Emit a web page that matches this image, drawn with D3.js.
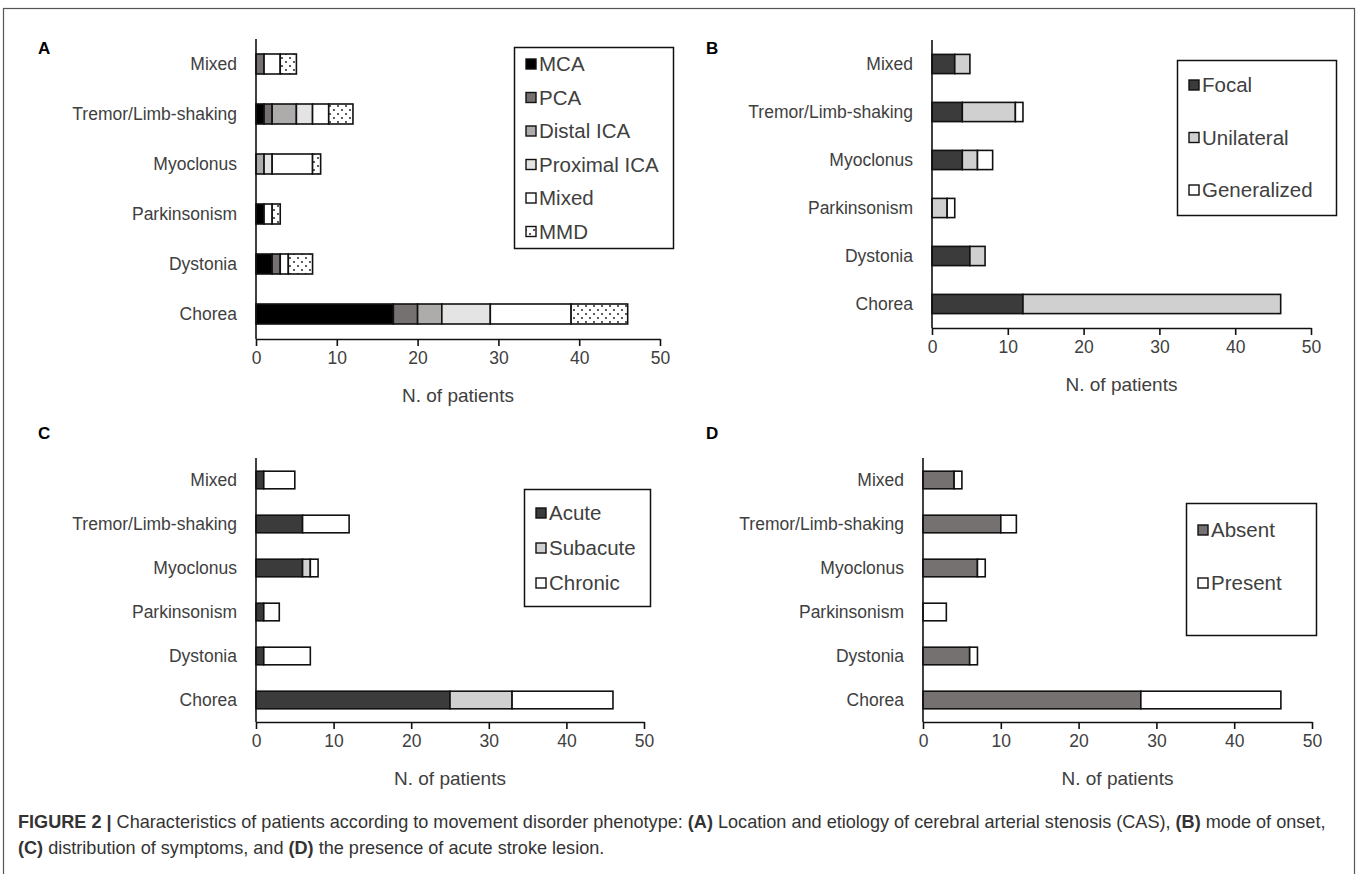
<!DOCTYPE html>
<html>
<head>
<meta charset="utf-8">
<script src="https://cdn.jsdelivr.net/npm/d3@7"></script>
<style>
  body { margin: 0; background: #fff; }
  svg { display: block; font-family: "Liberation Sans", Arial, sans-serif; }
</style>
</head>
<body>
<svg width="1358" height="874"></svg>
<script>
// categories, top to bottom as in the picture
const categories = ["Mixed", "Tremor/Limb-shaking", "Myoclonus", "Parkinsonism", "Dystonia", "Chorea"];
const xTicks = [0, 10, 20, 30, 40, 50];

// Panel A - location / etiology of CAS
const keysA = ["MCA", "PCA", "Distal ICA", "Proximal ICA", "Mixed", "MMD"];
const mca = [0, 1, 0, 1, 2, 17];
const pca = [1, 1, 0, 0, 1, 3];
const distalICA = [0, 3, 1, 0, 0, 3];
const proximalICA = [0, 2, 1, 0, 0, 6];
const mixedCAS = [2, 2, 5, 1, 1, 10];
const mmd = [2, 3, 1, 1, 3, 7];

// Panel B - mode of onset
const keysB = ["Focal", "Unilateral", "Generalized"];
const focal = [3, 4, 4, 0, 5, 12];
const unilateral = [2, 7, 2, 2, 2, 34];
const generalized = [0, 1, 2, 1, 0, 0];

// Panel C - distribution of symptoms
const keysC = ["Acute", "Subacute", "Chronic"];
const acute = [1, 6, 6, 1, 1, 25];
const subacute = [0, 0, 1, 0, 0, 8];
const chronic = [4, 6, 1, 2, 6, 13];

// Panel D - acute stroke lesion
const keysD = ["Absent", "Present"];
const absent = [4, 10, 7, 0, 6, 28];
const present = [1, 2, 1, 3, 1, 18];

function rows(keys, series) {
    return categories.map((c, i) => {
        const r = { cat: c };
        keys.forEach((k, j) => r[k] = series[j][i]);
        return r;
    });
}

const svg = d3.select("svg");
const defs = svg.append("defs");

// dotted fill for MMD
const pat = defs.append("pattern")
    .attr("id", "dots")
    .attr("width", 8).attr("height", 8)
    .attr("patternUnits", "userSpaceOnUse");
pat.append("rect").attr("width", 8).attr("height", 8).attr("fill", "#fff");
pat.append("circle").attr("cx", 2).attr("cy", 2).attr("r", 0.9).attr("fill", "#111");
pat.append("circle").attr("cx", 6).attr("cy", 6).attr("r", 0.9).attr("fill", "#111");

// outer frame
svg.append("rect")
    .attr("x", 3.5).attr("y", 8.5)
    .attr("width", 1351).attr("height", 900)
    .attr("fill", "none").attr("stroke", "#555").attr("stroke-width", 1.2);

const textCol = "#404040";
const labelSize = 17.5;

function drawPanel(p) {
    const g = svg.append("g");
    const data = rows(p.keys, p.series);
    const stack = d3.stack().keys(p.keys)(data);

    const x = d3.scaleLinear().domain([0, 50]).range([p.x0, p.x1]);
    const y = d3.scaleBand().domain(categories).range([p.yTop, p.yBottom]).paddingInner(p.pad).paddingOuter(p.pad / 2);

    // letter
    g.append("text")
        .attr("x", p.letterX).attr("y", p.letterY)
        .attr("font-size", 17).attr("font-weight", "bold").attr("fill", "#000")
        .text(p.letter);

    // bars
    stack.forEach((layer, li) => {
        g.selectAll(null)
            .data(layer.filter(d => d[1] - d[0] > 0))
            .enter()
            .append("rect")
            .attr("x", d => x(d[0]))
            .attr("y", d => y(d.data.cat))
            .attr("width", d => x(d[1]) - x(d[0]))
            .attr("height", y.bandwidth())
            .attr("fill", p.colors[li])
            .attr("stroke", "#111")
            .attr("stroke-width", 1.6);
    });

    // y axis line
    g.append("line")
        .attr("x1", p.x0).attr("x2", p.x0)
        .attr("y1", p.yTop).attr("y2", p.yBottom)
        .attr("stroke", "#111").attr("stroke-width", 1.6);

    // category labels
    g.selectAll(null)
        .data(categories)
        .enter()
        .append("text")
        .attr("x", p.x0 - 19)
        .attr("y", d => y(d) + y.bandwidth() / 2)
        .attr("dy", "0.35em")
        .attr("text-anchor", "end")
        .attr("font-size", labelSize)
        .attr("fill", textCol)
        .text(d => d);

    // x axis
    const xAxis = g.append("g")
        .attr("transform", `translate(0,${p.yBottom})`)
        .call(d3.axisBottom(x).tickValues(xTicks).tickSize(7).tickPadding(6).tickSizeOuter(0));
    xAxis.select(".domain").attr("stroke", "#111").attr("stroke-width", 1.6);
    xAxis.selectAll(".tick line").attr("stroke", "#111").attr("stroke-width", 1.6);
    xAxis.selectAll(".tick text")
        .attr("font-size", labelSize).attr("fill", textCol)
        .attr("font-family", "Liberation Sans, Arial, sans-serif");

    g.append("text")
        .attr("x", (p.x0 + p.x1) / 2)
        .attr("y", p.yBottom + 63)
        .attr("text-anchor", "middle")
        .attr("font-size", 19).attr("fill", textCol)
        .text("N. of patients");

    // legend
    const L = p.legend;
    g.append("rect")
        .attr("x", L.x + 0.5).attr("y", L.y + 0.5)
        .attr("width", L.w).attr("height", L.h)
        .attr("fill", "#fff").attr("stroke", "#111").attr("stroke-width", 1.5);
    p.keys.forEach((k, i) => {
        const cy = L.y + L.first + i * L.step;
        g.append("rect")
            .attr("x", L.x + 12).attr("y", cy - 5)
            .attr("width", 10).attr("height", 10)
            .attr("fill", p.colors[i]).attr("stroke", "#111").attr("stroke-width", 1.4);
        g.append("text")
            .attr("x", L.x + 25).attr("y", cy)
            .attr("dy", "0.36em")
            .attr("font-size", 20.5).attr("fill", textCol)
            .text(k);
    });
}

drawPanel({
    letter: "A", letterX: 38, letterY: 54,
    keys: keysA, series: [mca, pca, distalICA, proximalICA, mixedCAS, mmd],
    colors: ["#000000", "#767171", "#aeabab", "#e4e4e4", "#ffffff", "url(#dots)"],
    x0: 256, x1: 660, yTop: 39, yBottom: 339, pad: 0.6,
    legend: { x: 514, y: 47, w: 159, h: 201, first: 17, step: 33.5 }
});

drawPanel({
    letter: "B", letterX: 706, letterY: 54,
    keys: keysB, series: [focal, unilateral, generalized],
    colors: ["#3b3b3b", "#d0d0d0", "#ffffff"],
    x0: 932, x1: 1311, yTop: 40, yBottom: 328, pad: 0.6,
    legend: { x: 1177, y: 60, w: 159, h: 155, first: 25, step: 52.5 }
});

drawPanel({
    letter: "C", letterX: 38, letterY: 439,
    keys: keysC, series: [acute, subacute, chronic],
    colors: ["#3b3b3b", "#d0d0d0", "#ffffff"],
    x0: 256, x1: 644, yTop: 458, yBottom: 722, pad: 0.6,
    legend: { x: 524, y: 489, w: 126, h: 117, first: 24, step: 35 }
});

drawPanel({
    letter: "D", letterX: 706, letterY: 439,
    keys: keysD, series: [absent, present],
    colors: ["#767171", "#ffffff"],
    x0: 923, x1: 1312, yTop: 458, yBottom: 722, pad: 0.6,
    legend: { x: 1186, y: 503, w: 130, h: 132, first: 27, step: 53 }
});

// caption
const cap = svg.append("text")
    .attr("x", 18).attr("y", 828)
    .attr("font-size", 18.1).attr("fill", "#333");
cap.append("tspan").attr("font-weight", "bold").text("FIGURE 2 | ");
cap.append("tspan").text("Characteristics of patients according to movement disorder phenotype: ");
cap.append("tspan").attr("font-weight", "bold").text("(A)");
cap.append("tspan").text(" Location and etiology of cerebral arterial stenosis (CAS), ");
cap.append("tspan").attr("font-weight", "bold").text("(B)");
cap.append("tspan").text(" mode of onset,");

const cap2 = svg.append("text")
    .attr("x", 18).attr("y", 854)
    .attr("font-size", 18.1).attr("fill", "#333");
cap2.append("tspan").attr("font-weight", "bold").text("(C)");
cap2.append("tspan").text(" distribution of symptoms, and ");
cap2.append("tspan").attr("font-weight", "bold").text("(D)");
cap2.append("tspan").text(" the presence of acute stroke lesion.");
</script>
</body>
</html>
